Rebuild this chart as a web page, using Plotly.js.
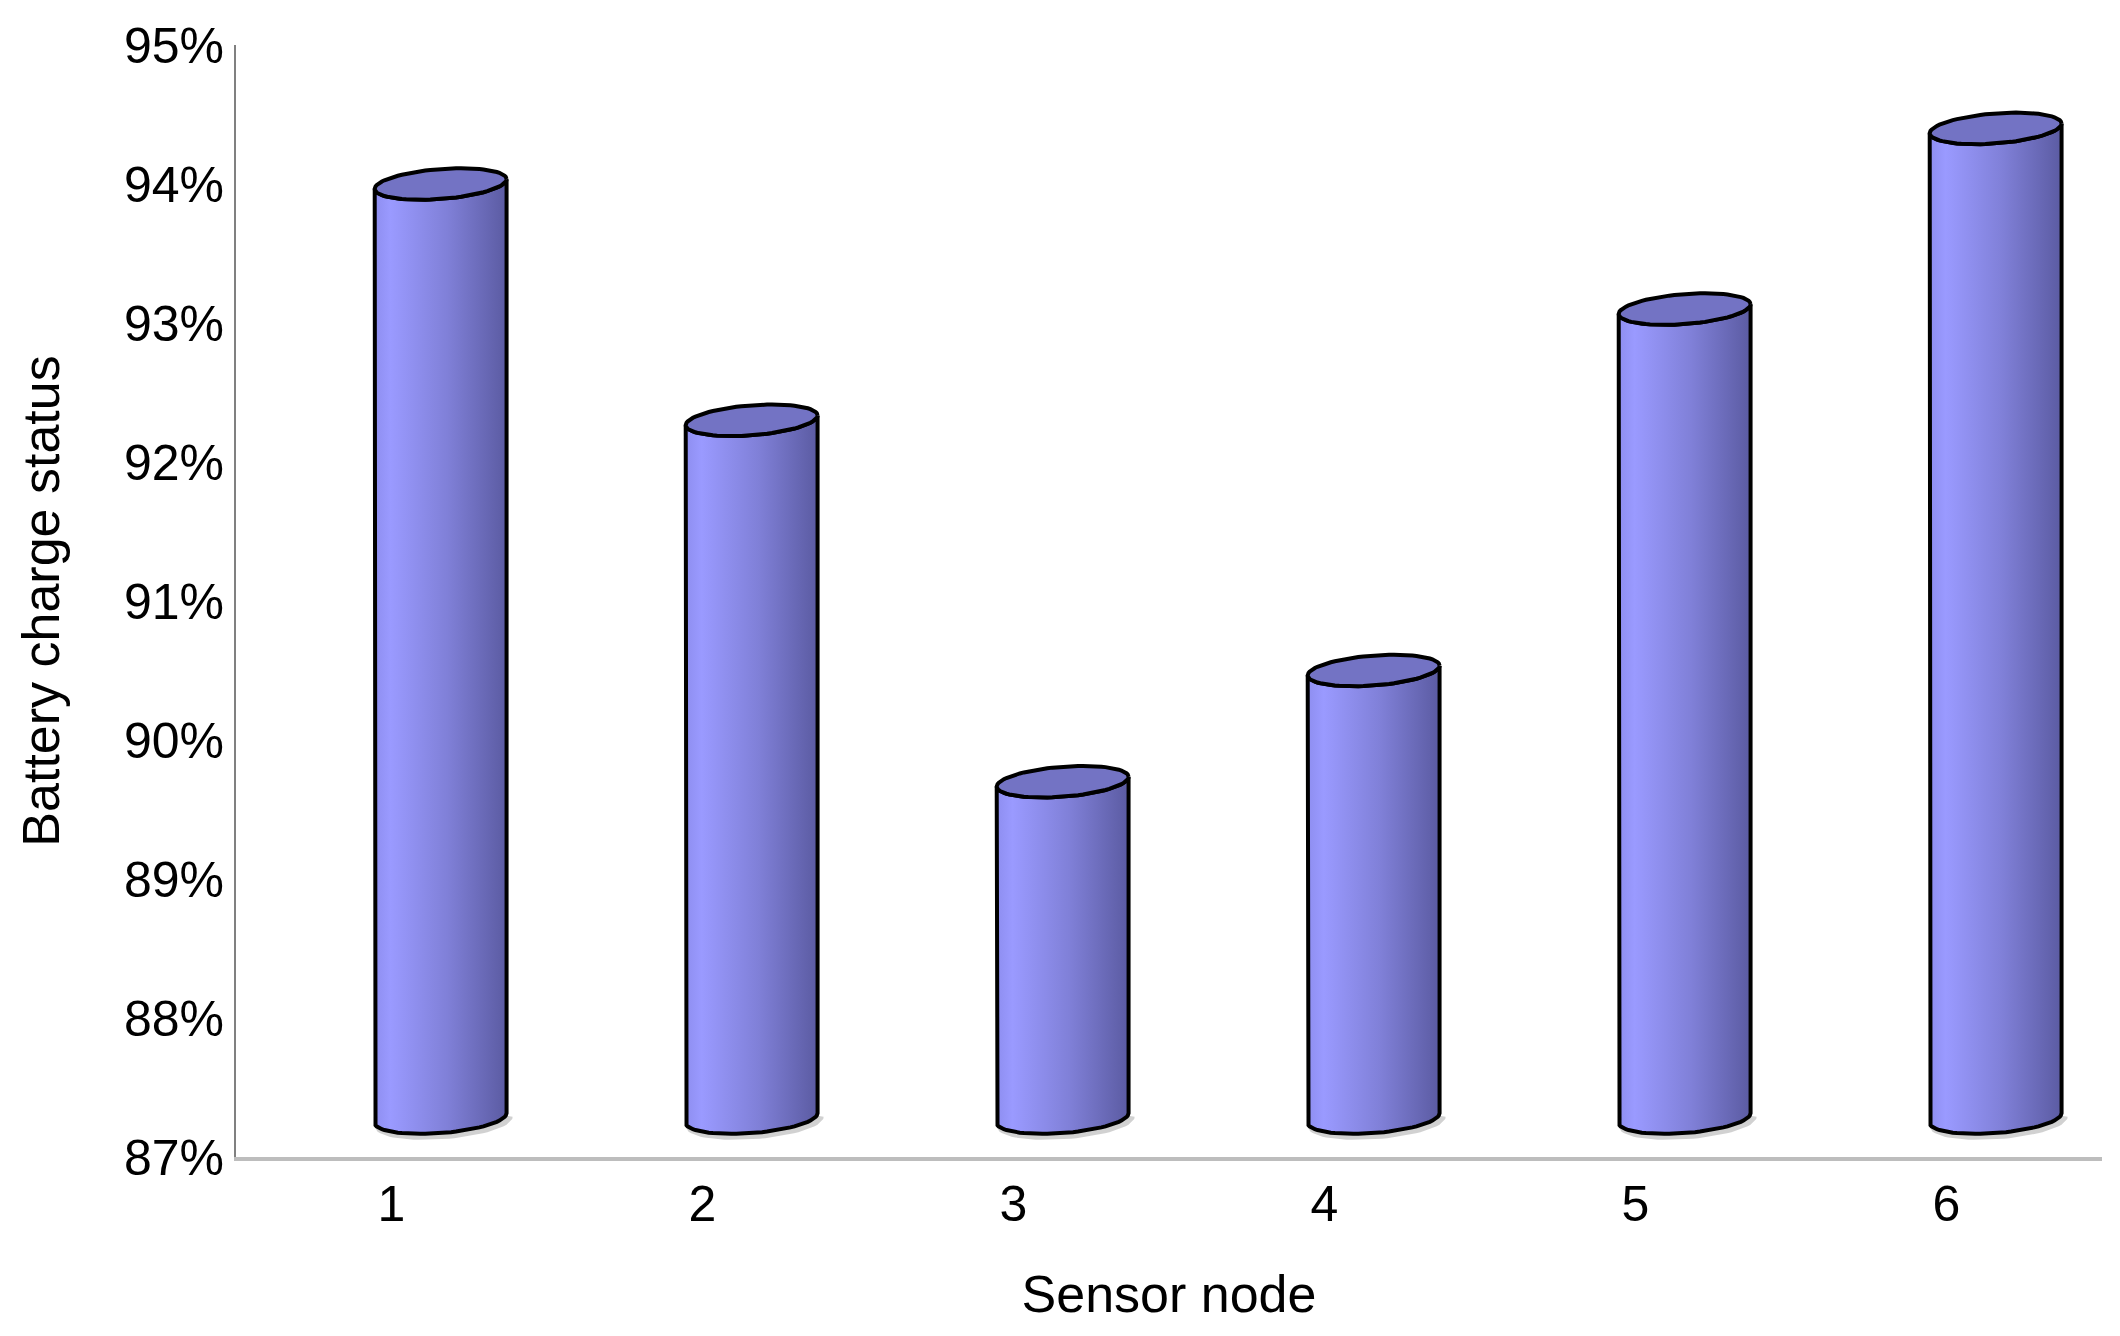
<!DOCTYPE html>
<html>
<head>
<meta charset="utf-8">
<script src="https://cdn.plot.ly/plotly-3.0.1.min.js"></script>
<style>
  html, body { margin: 0; padding: 0; background: #fff; }
  #plot { width: 2120px; height: 1336px; }
</style>
</head>
<body>
<div id="plot"></div>
<script>
// chart data
const nodeLabels = ['1', '2', '3', '4', '5', '6'];
const nodeX = [1, 2, 3, 4, 5, 6];
const chargeValues = [94.0, 92.3, 89.7, 90.5, 93.1, 94.4]; // percent
const yTicks = [87, 88, 89, 90, 91, 92, 93, 94, 95];
const yTickText = yTicks.map(v => v + '%');

// cylinder look (in axis units)
const floorLevel = 87.28;   // 3d floor the cylinders stand on
const xShift = 0.158;       // cylinders sit a bit right of their tick
const halfW = 0.212;        // horizontal radius
const ellB = 0.108;         // vertical radius of the ellipse
const ellT = 0.035;         // tilt: right side sits higher
const nArc = 40;

function ellPt(cx, cy, th) {
  return [cx + halfW * Math.cos(th), cy + ellB * Math.sin(th) + ellT * Math.cos(th)];
}

function bodyPath(cx, top) {
  let xs = [], ys = [];
  // down the left side, round the bottom front, up the right side
  let p = ellPt(cx, top, Math.PI); xs.push(p[0]); ys.push(p[1]);
  for (let i = 0; i <= nArc; i++) {
    let th = Math.PI + Math.PI * i / nArc;
    p = ellPt(cx, floorLevel, th); xs.push(p[0]); ys.push(p[1]);
  }
  // back along the front of the top rim
  for (let i = 0; i <= nArc; i++) {
    let th = 2 * Math.PI - Math.PI * i / nArc;
    p = ellPt(cx, top, th); xs.push(p[0]); ys.push(p[1]);
  }
  return [xs, ys];
}

function rimPath(cx, top) {
  let xs = [], ys = [];
  for (let i = 0; i <= 2 * nArc; i++) {
    let p = ellPt(cx, top, Math.PI * i / nArc);
    xs.push(p[0]); ys.push(p[1]);
  }
  return [xs, ys];
}

function shadowPath(cx) {
  let xs = [], ys = [];
  for (let i = 0; i <= nArc; i++) {
    let p = ellPt(cx + 0.01, floorLevel - 0.022, Math.PI + Math.PI * i / nArc);
    xs.push(p[0]); ys.push(p[1]);
  }
  return [xs, ys];
}

let traces = [];
for (let i = 0; i < nodeX.length; i++) {
  let cx = nodeX[i] + xShift;
  let top = chargeValues[i];

  let sh = shadowPath(cx);
  traces.push({
    x: sh[0], y: sh[1], type: 'scatter', mode: 'lines',
    line: {color: 'rgba(0,0,0,0.18)', width: 6},
    hoverinfo: 'skip', showlegend: false
  });

  let b = bodyPath(cx, top);
  traces.push({
    x: b[0], y: b[1], type: 'scatter', mode: 'lines',
    fill: 'toself',
    fillgradient: {
      type: 'horizontal',
      colorscale: [[0, '#8e8ef0'], [0.12, '#9a9aff'], [0.55, '#8080d8'], [1, '#5b5ba2']]
    },
    line: {color: '#000', width: 4},
    hoverinfo: 'skip', showlegend: false
  });

  let r = rimPath(cx, top);
  traces.push({
    x: r[0], y: r[1], type: 'scatter', mode: 'lines',
    fill: 'toself', fillcolor: '#7373c4',
    line: {color: '#000', width: 4},
    hoverinfo: 'skip', showlegend: false,
    name: 'Node ' + nodeLabels[i] + ': ' + chargeValues[i] + '%'
  });
}

const fontFam = '"Liberation Sans", Arial, sans-serif';

var layout = {
  width: 2120,
  height: 1336,
  margin: {l: 236, r: 18, t: 45, b: 179},
  paper_bgcolor: '#fff',
  plot_bgcolor: '#fff',
  font: {family: fontFam, color: '#000', size: 50},
  showlegend: false,
  xaxis: {
    range: [0.5, 6.5],
    tickvals: nodeX,
    ticktext: nodeLabels,
    showgrid: false,
    zeroline: false,
    ticks: '',
    showline: true,
    linecolor: '#bdbdbd',
    linewidth: 4,
    ticklabelstandoff: 0,
    tickfont: {family: fontFam, size: 50, color: '#000'},
    title: {text: 'Sensor node', font: {family: fontFam, size: 52, color: '#000'}, standoff: 46},
    fixedrange: true
  },
  yaxis: {
    range: [87, 95],
    tickvals: yTicks,
    ticktext: yTickText,
    showgrid: false,
    zeroline: false,
    ticks: '',
    showline: true,
    linecolor: '#808080',
    linewidth: 2,
    ticklabelstandoff: 0,
    tickfont: {family: fontFam, size: 50, color: '#000'},
    title: {text: 'Battery charge status', font: {family: fontFam, size: 52, color: '#000'}, standoff: 48},
    fixedrange: true
  }
};

Plotly.newPlot('plot', traces, layout, {displayModeBar: false, staticPlot: true});
</script>
</body>
</html>
